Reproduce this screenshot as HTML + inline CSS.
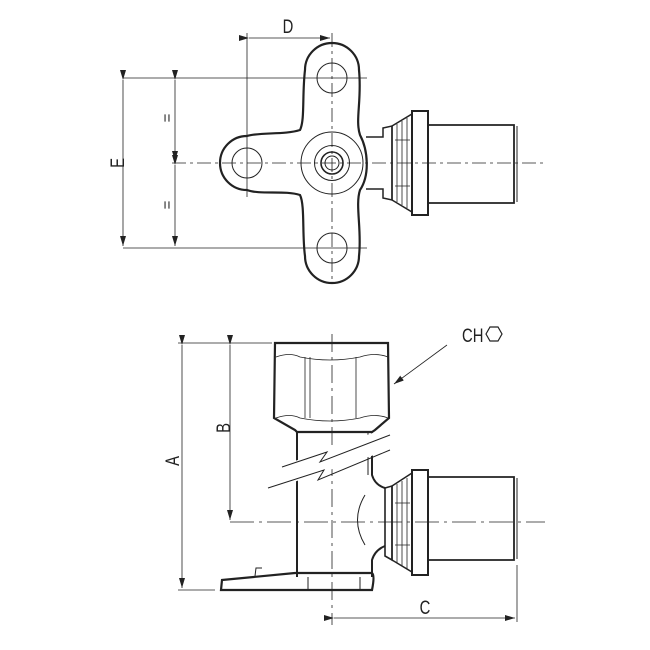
<!DOCTYPE html>
<html><head><meta charset="utf-8"><style>body{margin:0;background:#fff}svg{display:block}</style></head><body>
<svg width="650" height="650" viewBox="0 0 650 650" xmlns="http://www.w3.org/2000/svg" font-family="Liberation Sans, sans-serif">
<defs><marker id="ar" markerWidth="10" markerHeight="6" refX="10" refY="3" orient="auto" markerUnits="userSpaceOnUse"><path d="M0,0 L10,3 L0,6 Z" fill="#222"/></marker></defs>
<g fill="none" stroke="#222">
<g stroke-width="0.8">
<line x1="123" y1="78" x2="367" y2="78"/><line x1="123" y1="248" x2="367" y2="248"/>
<line x1="123" y1="80" x2="123" y2="246" marker-start="url(#ar)" marker-end="url(#ar)"/>
<line x1="175" y1="80" x2="175" y2="161" marker-start="url(#ar)" marker-end="url(#ar)"/>
<line x1="175" y1="165" x2="175" y2="246" marker-start="url(#ar)" marker-end="url(#ar)"/>
<line x1="247" y1="33" x2="247" y2="197"/>
<line x1="249" y1="38" x2="330" y2="38" marker-start="url(#ar)" marker-end="url(#ar)"/>
<line x1="332" y1="33" x2="332" y2="282" stroke-dasharray="14,4,3,4"/>
<line x1="172" y1="163" x2="543" y2="163" stroke-dasharray="14,4,3,4"/>
</g>
<path stroke-width="2.2" d="M305,70 A27,27 0 0 1 359,70 C362,100 355,120 360,135 C368,150 370,175 360,190 C355,205 362,230 359,256 A27,27 0 0 1 305,256 C302,235 305,205 300,195 C285,190 260,195 247,190 A27,27 0 0 1 247,136 C260,132 285,135 300,130 C305,120 302,95 305,70 Z"/>
<g stroke-width="1">
<circle cx="332" cy="78" r="15"/><circle cx="332" cy="248" r="15"/><circle cx="247" cy="163" r="15"/>
<circle cx="332" cy="163" r="31"/><circle cx="332" cy="163" r="17.5"/><circle cx="332" cy="163" r="11" stroke-width="1.6"/><circle cx="332" cy="163" r="7"/>
</g>
<path stroke-width="1.5" d="M366,137 L383,137 L383,128 L392,126 L392,200 L383,198 L383,189 L366,189"/>
<path stroke-width="1.5" d="M392,126 L412,114 L412,212 L392,200 Z"/>
<path stroke-width="0.8" d="M397,124 L397,202 M402,121 L402,205 M407,118 L407,208 M395,140 L410,140 M395,186 L410,186"/>
<rect x="412" y="111" width="16" height="104" stroke-width="2"/>
<path stroke-width="1.8" d="M428,125 L514,125 L514,203 L428,203"/>
<line x1="517" y1="126" x2="517" y2="202" stroke-width="1"/>
<g stroke-width="0.8">
<line x1="178" y1="343" x2="272" y2="343"/><line x1="178" y1="590" x2="215" y2="590"/>
<line x1="182" y1="345" x2="182" y2="588" marker-start="url(#ar)" marker-end="url(#ar)"/>
<line x1="230" y1="345" x2="230" y2="520" marker-start="url(#ar)" marker-end="url(#ar)"/>
<line x1="230" y1="522" x2="545" y2="522" stroke-dasharray="24,5,3,5"/>
<line x1="332" y1="334" x2="332" y2="625" stroke-dasharray="18,5,3,5"/>
<line x1="517" y1="565" x2="517" y2="622"/>
<line x1="334" y1="618" x2="515" y2="618" marker-start="url(#ar)" marker-end="url(#ar)"/>
<line x1="447" y1="345" x2="394" y2="384" marker-end="url(#ar)"/>
</g>
<path stroke-width="2.2" d="M275,343 L388,343 L389,418 L375,430 L372,432 L297,432 L295,430 L274,418 Z"/>
<g stroke-width="0.8">
<path d="M276,357 Q290,352 300,357 Q330,363 360,357 Q375,352 388,357"/>
<path d="M276,418 Q290,413 300,418 Q330,424 360,418 Q375,413 388,418"/>
<line x1="305" y1="357" x2="305" y2="418"/><line x1="356" y1="357" x2="356" y2="418"/>
<line x1="310" y1="357" x2="310" y2="418"/>
</g>
<path stroke-width="2" d="M297,432 L297,577 M372,432 L372,475 Q375,485 385,488 M385,546 Q375,550 372,560 L372,577"/>
<path stroke-width="1" d="M368,432 L368,475 M365,495 Q350,520 365,545"/>
<path stroke-width="2.2" d="M222,580 L295,573 L372,573 Q375,575 372,590 L221,590 Z"/>
<path stroke-width="1" d="M255,576 L256,568 L262,568 M308,577 L308,590 M360,577 L360,590"/>
<path fill="#fff" stroke="none" d="M270,470 L395,425 L395,448 L270,490 Z"/>
<path stroke-width="1" d="M282,467 L327,452 L320,462 L390,435 M268,488 L324,470 L318,480 L390,450"/>
<path stroke-width="1.6" d="M385,488 L392,486 L392,560 L385,556 Z"/>
<path stroke-width="1.5" d="M392,486 L412,473 L412,572 L392,560 Z"/>
<path stroke-width="0.8" d="M397,484 L397,563 M402,481 L402,566 M407,478 L407,569 M395,503 L410,503 M395,545 L410,545"/>
<rect x="412" y="470" width="16" height="105" stroke-width="2"/>
<path stroke-width="1.8" d="M428,477 L514,477 L514,560 L428,560"/>
<line x1="517" y1="478" x2="517" y2="559" stroke-width="1"/>
<path stroke-width="1.2" d="M486,334 L490,327 L498,327 L502,334 L498,341 L490,341 Z"/>
</g>
<g fill="#222" font-size="19">
<text transform="translate(288,33) scale(0.78,1)" text-anchor="middle">D</text>
<text transform="translate(462,342) scale(0.78,1)">CH</text>
<text transform="translate(425,614) scale(0.78,1)" text-anchor="middle">C</text>
<text transform="translate(124,163) rotate(-90) scale(0.78,1)" text-anchor="middle">E</text>
<text transform="translate(179,461) rotate(-90) scale(0.78,1)" text-anchor="middle">A</text>
<text transform="translate(230,428) rotate(-90) scale(0.78,1)" text-anchor="middle">B</text>
<text transform="translate(172,118) rotate(-90)" text-anchor="middle" font-size="15">=</text>
<text transform="translate(172,205) rotate(-90)" text-anchor="middle" font-size="15">=</text>
</g>
</svg>
</body></html>
